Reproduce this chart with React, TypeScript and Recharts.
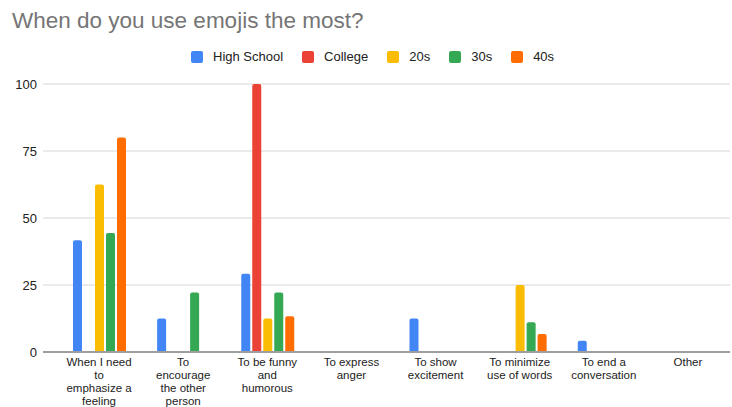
import { BarChart, Bar, XAxis, YAxis, CartesianGrid } from "recharts";

const categories = [
  "When I need\nto\nemphasize a\nfeeling",
  "To\nencourage\nthe other\nperson",
  "To be funny\nand\nhumorous",
  "To express\nanger",
  "To show\nexcitement",
  "To minimize\nuse of words",
  "To end a\nconversation",
  "Other",
];

const highSchool = [41.7, 12.5, 29.2, 0, 12.5, 0, 4.2, 0];
const college = [0, 0, 100, 0, 0, 0, 0, 0];
const twenties = [62.5, 0, 12.5, 0, 0, 25, 0, 0];
const thirties = [44.4, 22.2, 22.2, 0, 0, 11.1, 0, 0];
const forties = [80, 0, 13.3, 0, 0, 6.7, 0, 0];

const yTicks = [0, 25, 50, 75, 100];

const series = [
  { key: "hs", name: "High School", color: "#4285F4", values: highSchool },
  { key: "college", name: "College", color: "#EA4335", values: college },
  { key: "s20", name: "20s", color: "#FBBC04", values: twenties },
  { key: "s30", name: "30s", color: "#34A853", values: thirties },
  { key: "s40", name: "40s", color: "#FF6D01", values: forties },
];

const data = categories.map((c, i) => {
  const row: Record<string, string | number> = { category: c };
  series.forEach((s) => (row[s.key] = s.values[i]));
  return row;
});

const FONT = "Arial, 'Liberation Sans', sans-serif";

// multi-line category label, lines are split on "\n"
function CategoryTick({ x, y, payload }: any) {
  const lines = String(payload.value).split("\n");
  return (
    <text x={x} y={y} textAnchor="middle" fill="#222" fontSize={11.5} fontFamily={FONT}>
      {lines.map((l, i) => (
        <tspan key={i} x={x} dy={i === 0 ? 11.5 : 13.3}>{l}</tspan>
      ))}
    </text>
  );
}

export default function App() {
  return (
    <div style={{ position: "absolute", left: 0, top: 0, width: 732, height: 407, background: "#fff", overflow: "hidden", fontFamily: FONT }}>
      <div style={{ position: "absolute", left: 12, top: 8, fontSize: 22.5, color: "#757575", whiteSpace: "nowrap" }}>
        When do you use emojis the most?
      </div>
      <div style={{ position: "absolute", left: 191, top: 49, display: "flex", alignItems: "center", gap: 19, fontSize: 13, color: "#222" }}>
        {series.map((s) => (
          <span key={s.key} style={{ display: "inline-flex", alignItems: "center", gap: 10 }}>
            <span style={{ width: 12, height: 12, borderRadius: 2, background: s.color, display: "inline-block" }} />
            {s.name}
          </span>
        ))}
      </div>
      <BarChart width={732} height={407} data={data} margin={{ top: 84, right: 2, bottom: 0, left: 0 }} barSize={9} barGap={2}>
        <CartesianGrid vertical={false} stroke="#d6d6d6" />
        <XAxis
          dataKey="category"
          height={55}
          interval={0}
          tick={<CategoryTick />}
          tickLine={false}
          tickSize={0}
          axisLine={{ stroke: "#9e9e9e", strokeWidth: 2 }}
          padding={{ left: 14, right: 0 }}
        />
        <YAxis
          width={43}
          domain={[0, 100]}
          ticks={yTicks}
          axisLine={false}
          tickLine={false}
          tickSize={4}
          tickMargin={2}
          tick={{ fill: "#222", fontSize: 13, fontFamily: FONT }}
        />
        {series.map((s) => (
          <Bar key={s.key} dataKey={s.key} name={s.name} fill={s.color} radius={[2, 2, 0, 0]} isAnimationActive={false} />
        ))}
      </BarChart>
    </div>
  );
}
